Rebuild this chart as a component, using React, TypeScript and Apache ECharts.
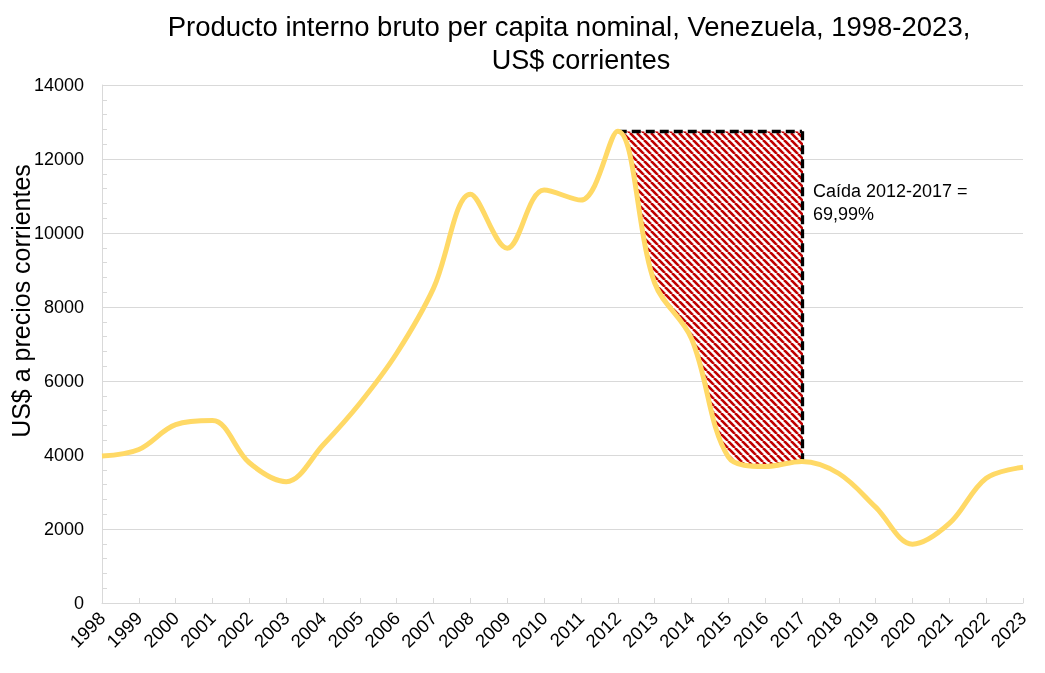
import { useEffect, useRef } from "react";
import * as echarts from "echarts";

// Nominal GDP per capita, Venezuela (current US$)
const years = [
  "1998", "1999", "2000", "2001", "2002", "2003", "2004", "2005", "2006",
  "2007", "2008", "2009", "2010", "2011", "2012", "2013", "2014", "2015",
  "2016", "2017", "2018", "2019", "2020", "2021", "2022", "2023",
];
const gdpPerCapita = [
  3970, 4150, 4820, 4930, 3790, 3280, 4270, 5400, 6750,
  8510, 11050, 9590, 11160, 10890, 12750, 8650, 7150, 3950,
  3690, 3826, 3500, 2590, 1590, 2150, 3370, 3670,
];

const dropFrom = "2012";
const dropTo = "2017";
const dropNote = "Caída 2012-2017 =\n69,99%";
const noteValue = 10824;

const titleLines = [
  "Producto interno bruto per capita nominal, Venezuela, 1998-2023,",
  "US$ corrientes",
];
const yAxisTitle = "US$ a precios corrientes";
const yMax = 14000;
const yStep = 2000;

const FONT = "'Liberation Sans', Arial, Helvetica, sans-serif";
const GRID_GREY = "#D9D9D9";
const LINE_GOLD = "#FFD966";
const SMOOTH = 0.35;

// chart frame (pixels)
const W = 1045;
const H = 673;
const G_LEFT = 102;
const G_RIGHT = 22;
const G_TOP = 85;
const G_BOTTOM = 70;

function makeHatch() {
  const size = 7;
  const c = document.createElement("canvas");
  c.width = size;
  c.height = size;
  const ctx = c.getContext("2d")!;
  ctx.fillStyle = "#ffffff";
  ctx.fillRect(0, 0, size, size);
  ctx.strokeStyle = "#C00000";
  ctx.lineWidth = 2.6;
  for (const o of [-size, 0, size]) {
    ctx.beginPath();
    ctx.moveTo(o, 0);
    ctx.lineTo(o + size, size);
    ctx.stroke();
  }
  return { image: c, repeat: "repeat", imageWidth: size, imageHeight: size };
}

export default function App() {
  const ref = useRef<HTMLDivElement>(null);

  useEffect(() => {
    if (!ref.current) return;
    const chart = echarts.init(ref.current, undefined, { renderer: "svg" });

    const i0 = years.indexOf(dropFrom);
    const i1 = years.indexOf(dropTo);
    const peak = gdpPerCapita[i0];

    // A second, invisible grid sharing the main scale but limited to the
    // 2012-2017 window and to values below the 2012 peak; the hatched area
    // is drawn there (filled from the curve up to the peak) and clipped to it.
    const plotW = W - G_LEFT - G_RIGHT;
    const plotH = H - G_TOP - G_BOTTOM;
    const step = plotW / (years.length - 1);
    const hatchGrid = {
      left: G_LEFT + i0 * step,
      right: W - (G_LEFT + i1 * step),
      top: G_TOP + (plotH * (yMax - peak)) / yMax,
      bottom: G_BOTTOM,
    };
    const indexed = gdpPerCapita.map((v, i) => [i, v]);

    chart.setOption({
      animation: false,
      textStyle: { fontFamily: FONT },
      title: [
        {
          text: titleLines[0],
          left: 564,
          top: 7,
          textAlign: "center",
          textStyle: { fontFamily: FONT, fontSize: 27.5, fontWeight: "normal", color: "#000" },
        },
        {
          text: titleLines[1],
          left: 576,
          top: 41,
          textAlign: "center",
          textStyle: { fontFamily: FONT, fontSize: 27, fontWeight: "normal", color: "#000" },
        },
      ],
      grid: [
        { left: G_LEFT, right: G_RIGHT, top: G_TOP, bottom: G_BOTTOM, containLabel: false },
        { ...hatchGrid, containLabel: false },
      ],
      xAxis: [
        {
          type: "category",
          gridIndex: 0,
          data: years,
          boundaryGap: false,
          axisLine: { lineStyle: { color: GRID_GREY, width: 1 } },
          axisTick: { show: true, inside: true, length: 5, lineStyle: { color: GRID_GREY } },
          axisLabel: {
            rotate: 45,
            interval: 0,
            margin: 12,
            color: "#000",
            fontSize: 18.5,
            fontFamily: FONT,
          },
          splitLine: { show: false },
        },
        {
          type: "value",
          gridIndex: 1,
          min: i0,
          max: i1,
          show: false,
          splitLine: { show: false },
        },
      ],
      yAxis: [
        {
          type: "value",
          gridIndex: 0,
          min: 0,
          max: yMax,
          interval: yStep,
          axisLine: { show: true, lineStyle: { color: GRID_GREY, width: 1 } },
          axisTick: { show: true, inside: true, length: 5, lineStyle: { color: GRID_GREY } },
          minorTick: { show: true, splitNumber: 5, length: 5, lineStyle: { color: GRID_GREY } },
          axisLabel: {
            color: "#000",
            fontSize: 18,
            margin: 18,
            fontFamily: FONT,
            formatter: (v: number) => String(v),
          },
          splitLine: { show: true, lineStyle: { color: GRID_GREY, width: 1 } },
        },
        {
          type: "value",
          gridIndex: 1,
          min: 0,
          max: peak,
          show: false,
          splitLine: { show: false },
        },
      ],
      graphic: [
        {
          type: "text",
          x: 21,
          y: 301,
          rotation: Math.PI / 2,
          style: {
            text: yAxisTitle,
            fontSize: 25,
            fontFamily: FONT,
            fill: "#000",
            align: "center",
            verticalAlign: "middle",
          },
        },
      ],
      series: [
        {
          name: "Caída",
          type: "line",
          xAxisIndex: 1,
          yAxisIndex: 1,
          data: indexed,
          smooth: SMOOTH,
          showSymbol: false,
          clip: true,
          lineStyle: { width: 0, opacity: 0 },
          areaStyle: { origin: "end", color: makeHatch(), opacity: 1 },
          z: 3,
        },
        {
          name: "PIB per capita",
          type: "line",
          xAxisIndex: 0,
          yAxisIndex: 0,
          data: gdpPerCapita,
          smooth: SMOOTH,
          showSymbol: false,
          lineStyle: { color: LINE_GOLD, width: 5 },
          itemStyle: { color: LINE_GOLD },
          z: 5,
          markLine: {
            silent: true,
            symbol: ["none", "none"],
            label: { show: false },
            lineStyle: { color: "#000", width: 3.3, type: [9, 5] },
            data: [
              [{ coord: [dropFrom, peak] }, { coord: [dropTo, peak] }],
              [{ coord: [dropTo, peak] }, { coord: [dropTo, gdpPerCapita[i1]] }],
            ],
          },
          markPoint: {
            silent: true,
            symbol: "circle",
            symbolSize: 0,
            itemStyle: { color: "transparent" },
            label: {
              show: true,
              position: "right",
              distance: 11,
              formatter: dropNote,
              color: "#000",
              fontSize: 18,
              lineHeight: 23,
              fontFamily: FONT,
              align: "left",
            },
            data: [{ coord: [dropTo, noteValue] }],
          },
        },
      ],
    });

    return () => chart.dispose();
  }, []);

  return (
    <div
      ref={ref}
      style={{ position: "fixed", left: 0, top: 0, width: W, height: H }}
    />
  );
}
